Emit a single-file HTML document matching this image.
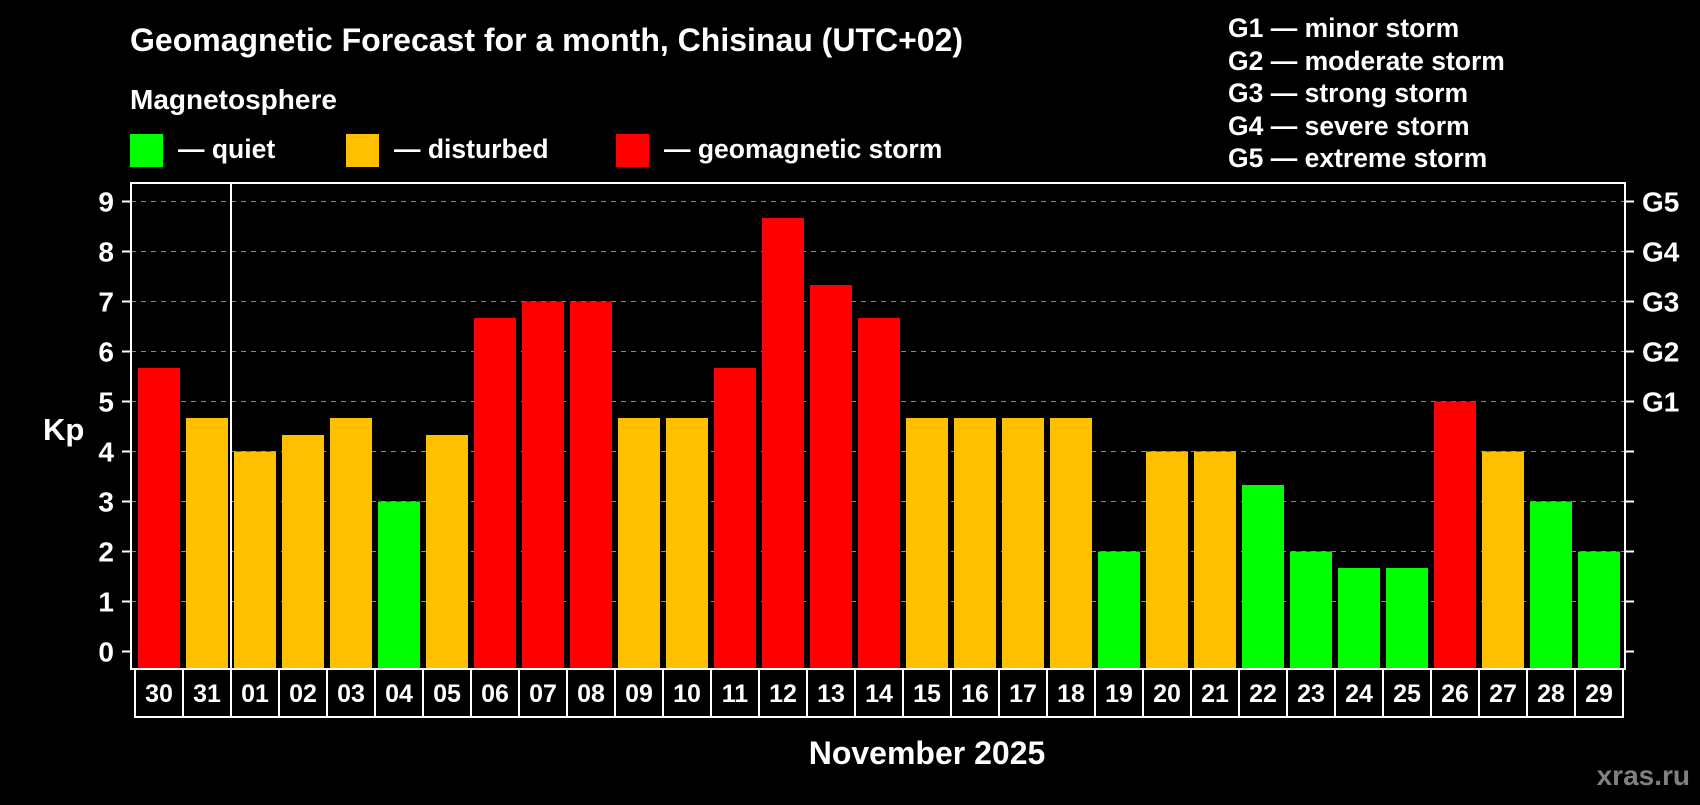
<!DOCTYPE html>
<html><head><meta charset="utf-8"><style>
body{margin:0;background:#000;width:1700px;height:800px;overflow:hidden}
svg text{font-family:"Liberation Sans",sans-serif;font-weight:bold;fill:#fff}
</style></head><body>
<svg id="c" width="1700" height="800">
<text x="130" y="51" font-size="32">Geomagnetic Forecast for a month, Chisinau (UTC+02)</text>
<text x="130" y="109" font-size="28">Magnetosphere</text>
<rect x="130" y="134" width="33" height="33" fill="#00ff00"/>
<text x="178" y="158" font-size="26.5">— quiet</text>
<rect x="346" y="134" width="33" height="33" fill="#ffc000"/>
<text x="394" y="158" font-size="26.5">— disturbed</text>
<rect x="616" y="134" width="33" height="33" fill="#ff0000"/>
<text x="664" y="158" font-size="26.5">— geomagnetic storm</text>
<g font-size="26.5">
<text x="1228" y="37">G1 — minor storm</text>
<text x="1228" y="70">G2 — moderate storm</text>
<text x="1228" y="102">G3 — strong storm</text>
<text x="1228" y="135">G4 — severe storm</text>
<text x="1228" y="167">G5 — extreme storm</text>
</g>
<text x="43" y="440" font-size="31">Kp</text>
<text x="927" y="764" font-size="32" text-anchor="middle">November 2025</text>
<text x="1690" y="785" font-size="28" text-anchor="end" style="fill:#808080">xras.ru</text>
<g id="grid"></g><g id="bars"></g><g id="labels"></g>
<rect x="131" y="183" width="1494" height="486" fill="none" stroke="#fff" stroke-width="2"/>
<line x1="231" y1="183" x2="231" y2="669" stroke="#fff" stroke-width="2"/>
</svg>
<script>
const days=["30","31","01","02","03","04","05","06","07","08","09","10","11","12","13","14","15","16","17","18","19","20","21","22","23","24","25","26","27","28","29"];
const kp=[5.67,4.67,4,4.33,4.67,3,4.33,6.67,7,7,4.67,4.67,5.67,8.67,7.33,6.67,4.67,4.67,4.67,4.67,2,4,4,3.33,2,1.67,1.67,5,4,3,2];
const yTicks=[0,1,2,3,4,5,6,7,8,9];
const gLabels=[[5,"G1"],[6,"G2"],[7,"G3"],[8,"G4"],[9,"G5"]];
const NS="http://www.w3.org/2000/svg";
const y=v=>651.5-50*v, x0=135, step=48;
function mk(t,a,p){const e=document.createElementNS(NS,t);for(const k in a)e.setAttribute(k,a[k]);p.appendChild(e);return e;}
const G=document.getElementById('grid'),B=document.getElementById('bars'),L=document.getElementById('labels');
yTicks.forEach(v=>{
 if(v>=1){const gl=mk('line',{x1:131,x2:1625,y1:y(v),y2:y(v),stroke:'#888','stroke-dasharray':'5,5','stroke-width':1},G);
 
 }
 mk('line',{x1:122,x2:131,y1:y(v),y2:y(v),stroke:'#fff','stroke-width':2},G);
 mk('line',{x1:1625,x2:1634,y1:y(v),y2:y(v),stroke:'#fff','stroke-width':2},G);
 const t=mk('text',{x:114,y:y(v)+10,'font-size':28,'text-anchor':'end'},G);t.textContent=v;
 
 
});
gLabels.forEach(([v,s])=>{const t=mk('text',{x:1642,y:y(v)+10,'font-size':28},G);t.textContent=s;
 
 });
kp.forEach((v,i)=>{
 const c=v<4?'#00ff00':(v<5?'#ffc000':'#ff0000');
 const r=mk('rect',{x:x0+i*step+3,y:y(v),width:42,height:669-y(v),fill:c},B);
 
 
 const bx=mk('rect',{x:x0+i*step,y:669,width:step,height:48,fill:'none',stroke:'#fff','stroke-width':2},L);
 
 
 const t=mk('text',{x:x0+i*step+24,y:702,'font-size':25,'text-anchor':'middle'},L);t.textContent=days[i];
 
 
});
</script>
</body></html>
